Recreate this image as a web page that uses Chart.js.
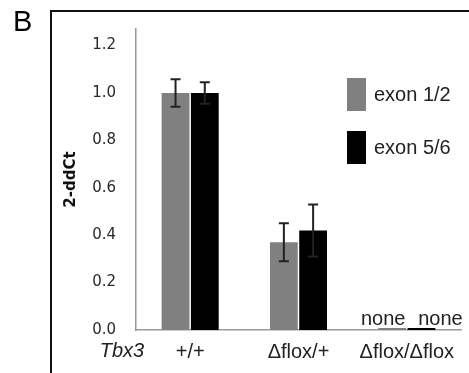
<!DOCTYPE html>
<html lang="en">
<head>
  <meta charset="UTF-8">
  <title>Tbx3 exon expression</title>
  <script src="https://cdn.jsdelivr.net/npm/chart.js"></script>
  <style>
    html, body { margin: 0; padding: 0; background: #fff; }
    #wrap { position: relative; width: 469px; height: 373px; }
  </style>
</head>
<body>
  <div id="wrap">
    <canvas id="qpcrChart" width="469" height="373"></canvas>
  </div>

  <script>
    // genotypes on the x axis
    const genotypes = ['+/+', '\u0394flox/+', '\u0394flox/\u0394flox'];
    // mean relative expression (2-ddCt)
    const exon12 = [1.0, 0.37, 0];
    const exon56 = [1.0, 0.42, 0];
    // error bar half-lengths
    const exon12Err = [0.058, 0.08, 0];
    const exon56Err = [0.045, 0.11, 0];
    // text shown where nothing was detected
    const exon12Note = ['', '', 'none'];
    const exon56Note = ['', '', 'none'];
    const yTicks = [0, 0.2, 0.4, 0.6, 0.8, 1.0, 1.2];

    const font = "'Liberation Sans', Arial, sans-serif";
    const tickFont = "'DejaVu Sans', Tahoma, sans-serif";

    // frame, panel letter, gene name
    const decorPlugin = {
      id: 'decor',
      beforeDraw(chart) {
        const ctx = chart.ctx;
        ctx.save();
        ctx.strokeStyle = '#111';
        ctx.lineWidth = 2;
        ctx.beginPath();
        ctx.moveTo(51, 373);
        ctx.lineTo(51, 11);
        ctx.lineTo(469, 11);
        ctx.stroke();
        ctx.restore();
      },
      afterDraw(chart) {
        const ctx = chart.ctx;
        ctx.save();
        ctx.fillStyle = '#000';
        ctx.font = '29px ' + font;
        ctx.textBaseline = 'alphabetic';
        ctx.fillText('B', 13, 31);
        ctx.fillStyle = '#222';
        ctx.font = 'italic 20px ' + font;
        ctx.textAlign = 'center';
        ctx.textBaseline = 'middle';
        ctx.fillText('Tbx3', 122, 351);
        ctx.restore();
      }
    };

    // error bars and "none" notes
    const errorPlugin = {
      id: 'errors',
      afterDatasetsDraw(chart) {
        const ctx = chart.ctx;
        const y = chart.scales.y;
        ctx.save();
        chart.data.datasets.forEach((ds, i) => {
          const meta = chart.getDatasetMeta(i);
          meta.data.forEach((bar, j) => {
            const err = ds.errors[j];
            if (err > 0) {
              const top = y.getPixelForValue(ds.data[j] + err);
              const bot = y.getPixelForValue(ds.data[j] - err);
              ctx.strokeStyle = '#222';
              ctx.lineWidth = 2;
              ctx.beginPath();
              ctx.moveTo(bar.x, top); ctx.lineTo(bar.x, bot);
              ctx.moveTo(bar.x - 5, top); ctx.lineTo(bar.x + 5, top);
              ctx.moveTo(bar.x - 5, bot); ctx.lineTo(bar.x + 5, bot);
              ctx.stroke();
            }
            if (ds.notes[j]) {
              ctx.fillStyle = '#222';
              ctx.font = '20px ' + font;
              ctx.textBaseline = 'alphabetic';
              ctx.textAlign = 'center';
              ctx.fillText(ds.notes[j], bar.x + (i === 0 ? -9 : 19), 325);
            }
          });
        });
        ctx.restore();
      }
    };

    // legend drawn inside the plot
    const legendPlugin = {
      id: 'innerLegend',
      afterDraw(chart) {
        const ctx = chart.ctx;
        ctx.save();
        chart.data.datasets.forEach((ds, i) => {
          const top = 78 + i * 53;
          ctx.fillStyle = ds.backgroundColor;
          ctx.fillRect(347, top, 19, 33);
          ctx.fillStyle = '#222';
          ctx.font = '20px ' + font;
          ctx.textBaseline = 'middle';
          ctx.fillText(ds.label, 374, top + 17);
        });
        ctx.restore();
      }
    };

    new Chart(document.getElementById('qpcrChart'), {
      type: 'bar',
      data: {
        labels: genotypes,
        datasets: [
          { label: 'exon 1/2', data: exon12, errors: exon12Err, notes: exon12Note,
            backgroundColor: '#808080', borderWidth: 0 },
          { label: 'exon 5/6', data: exon56, errors: exon56Err, notes: exon56Note,
            backgroundColor: '#000000', borderWidth: 0 }
        ]
      },
      options: {
        responsive: false,
        animation: false,
        layout: { padding: { left: 58, top: 25, right: 8, bottom: 0 } },
        categoryPercentage: 0.54,
        barPercentage: 0.95,
        minBarLength: 2,
        plugins: {
          legend: { display: false },
          tooltip: { enabled: false }
        },
        scales: {
          x: {
            grid: { display: false, drawTicks: false },
            border: { color: '#9a9a9a', width: 1.5 },
            ticks: { color: '#222', font: { family: font, size: 20 }, padding: 10 },
            afterFit(scale) { scale.height = 43; }
          },
          y: {
            min: 0,
            max: 1.27,
            afterBuildTicks(scale) { scale.ticks = yTicks.map(v => ({ value: v })); },
            grid: { display: false, drawTicks: false },
            border: { color: '#9a9a9a', width: 1.5 },
            ticks: {
              color: '#2a2a2a',
              padding: 20,
              font: { family: tickFont, size: 15 },
              callback: v => v.toFixed(1)
            },
            title: {
              display: true,
              text: '2-ddCt',
              color: '#111',
              font: { family: tickFont, size: 15, weight: 'bold' },
              padding: { top: 4, bottom: 0 }
            },
            afterFit(scale) { scale.width = 78; }
          }
        }
      },
      plugins: [decorPlugin, errorPlugin, legendPlugin]
    });
  </script>
</body>
</html>
